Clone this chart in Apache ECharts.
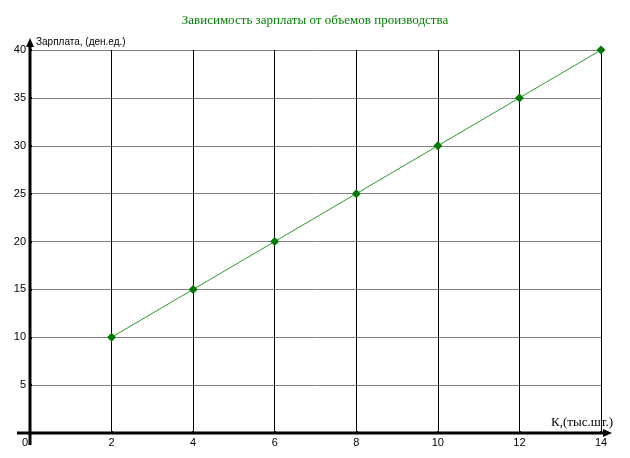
<!DOCTYPE html>
<html><head><meta charset="utf-8">
<script src="https://cdn.jsdelivr.net/npm/echarts@6/dist/echarts.min.js"></script>
<style>html,body{margin:0;padding:0;background:#fff}#c{width:630px;height:458px}</style>
</head><body><div id="c"></div>
<script>
const titleText = 'Зависимость зарплаты от объемов производства';
const xName = 'К,(тыс.шт.)';
const yName = 'Зарплата, (ден.ед.)';
const xValues = [2, 4, 6, 8, 10, 12, 14];
const yValues = [10, 15, 20, 25, 30, 35, 40];

const chart = echarts.init(document.getElementById('c'), null, {renderer: 'canvas'});
const labelFont = {fontFamily: 'Liberation Sans, Arial, sans-serif', fontSize: 11, color: '#000'};
chart.setOption({
  animation: false,
  backgroundColor: '#fff',
  title: {text: titleText, left: 'center', top: 9,
    textStyle: {fontFamily: 'Liberation Serif, Times New Roman, serif', fontWeight: 'normal', fontSize: 13, color: '#008000'}},
  grid: {left: 30, right: 29, top: 50, bottom: 25, containLabel: false},
  xAxis: {type: 'value', min: 0, max: 14, interval: 2,
    axisLine: {show: false},
    axisTick: {show: true, inside: true, length: 2, lineStyle: {color: '#000', width: 2}},
    axisLabel: Object.assign({margin: 4, formatter: v => v === 0 ? '{z|0}' : String(v),
      rich: {z: {fontFamily: 'Liberation Sans, Arial, sans-serif', fontSize: 11, color: '#000', padding: [0, 10, 0, 0]}}}, labelFont),
    splitLine: {show: true, lineStyle: {color: '#000', width: 1}}},
  yAxis: {type: 'value', min: 0, max: 40, interval: 5,
    axisLine: {show: false},
    axisTick: {show: true, inside: true, length: 2, lineStyle: {color: '#000', width: 2}},
    axisLabel: Object.assign({margin: 4, formatter: v => v === 0 ? '' : String(v)}, labelFont),
    splitLine: {show: true, lineStyle: {color: '#808080', width: 1}}},
  series: [{type: 'line', data: xValues.map((x, i) => [x, yValues[i]]),
    symbol: 'diamond', symbolSize: 9, showSymbol: true,
    lineStyle: {color: '#2e9a2e', width: 1},
    itemStyle: {color: '#007a00'}}]
});

function drawAxes() {
  const o = chart.convertToPixel({gridIndex: 0}, [0, 0]);
  const e = chart.convertToPixel({gridIndex: 0}, [14, 40]);
  const x0 = Math.round(o[0]), y0 = Math.round(o[1]);
  const x1 = Math.round(e[0]), y1 = Math.round(e[1]);
  chart.setOption({graphic: [
    {type: 'line', shape: {x1: x0 - 13, y1: y0, x2: x1 + 4, y2: y0}, style: {stroke: '#000', lineWidth: 3}, z: 10},
    {type: 'polygon', shape: {points: [[x1 + 11, y0], [x1 + 2, y0 - 4], [x1 + 2, y0 + 4]]}, style: {fill: '#000'}, z: 10},
    {type: 'line', shape: {x1: x0, y1: y0 + 12, x2: x0, y2: y1 - 5}, style: {stroke: '#000', lineWidth: 3}, z: 10},
    {type: 'polygon', shape: {points: [[x0, y1 - 12], [x0 - 4, y1 - 3], [x0 + 4, y1 - 3]]}, style: {fill: '#000'}, z: 10},
    {type: 'text', right: 630 - x1 - 12, top: y0 - 17, style: {text: xName, font: '13px Liberation Serif, Times New Roman, serif', fill: '#000'}, z: 11},
    {type: 'text', left: x0 + 6, top: y1 - 13, style: {text: yName, font: '10px Liberation Sans, Arial, sans-serif', fill: '#000'}, z: 11}
  ]});
}
drawAxes();
</script>
</body></html>
